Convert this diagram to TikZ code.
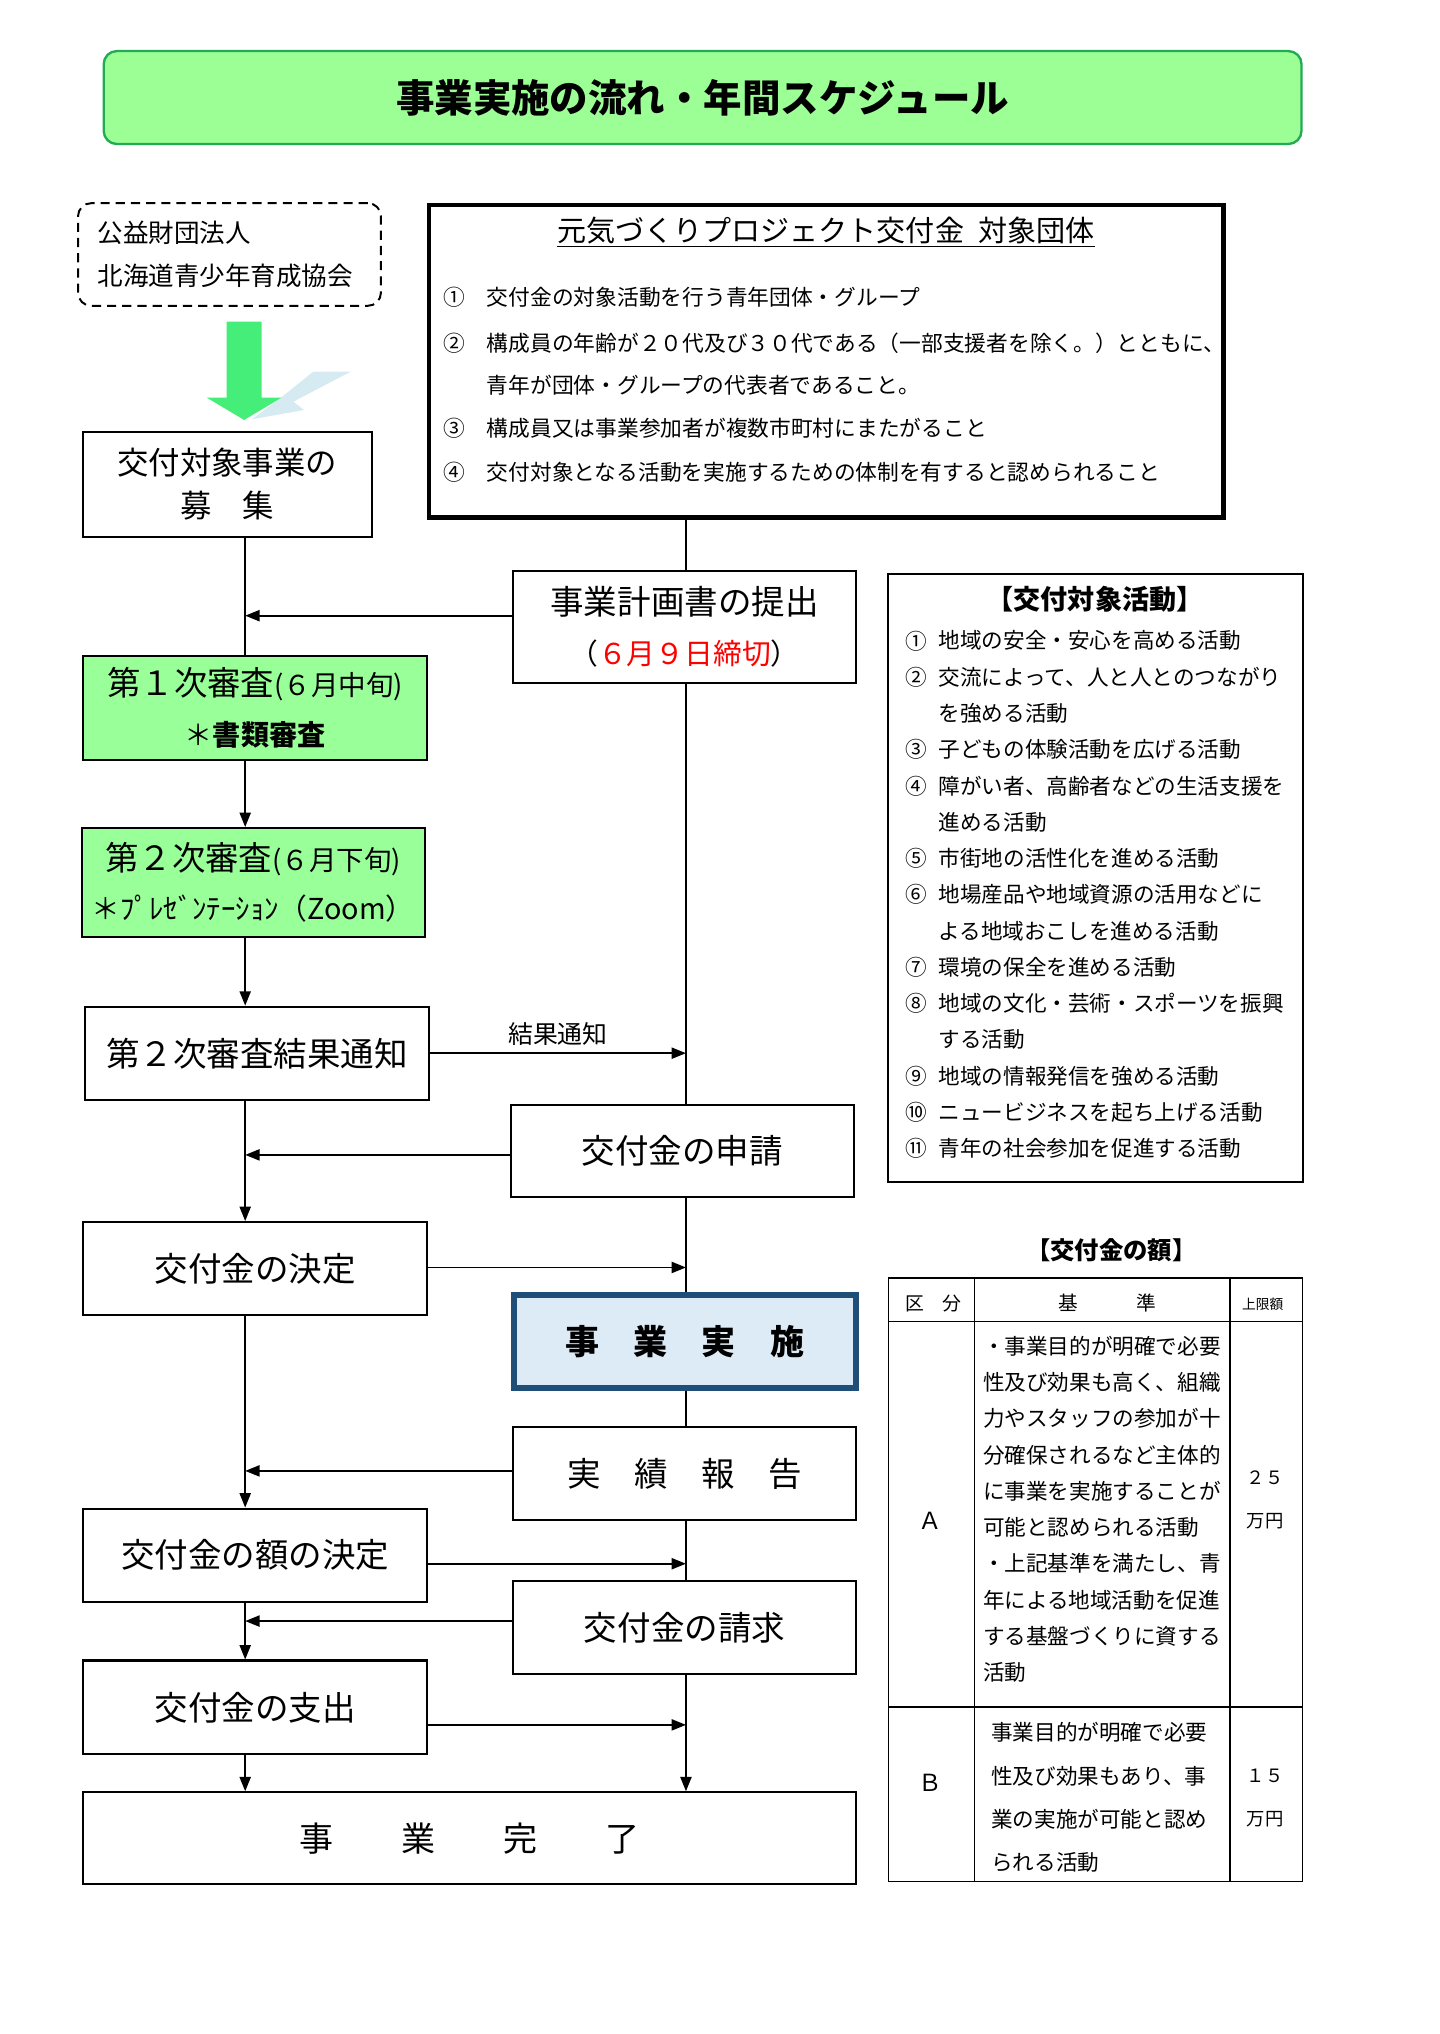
\documentclass[tikz,border=0pt]{standalone}
\usepackage{fontspec}
\setmainfont{Noto Sans CJK JP}
\usetikzlibrary{arrows.meta}
\definecolor{titlegreen}{HTML}{9CFF96}
\definecolor{titleline}{HTML}{22AA55}
\definecolor{boxgreen}{HTML}{99FF99}
\definecolor{arrowgreen}{HTML}{45EE78}
\definecolor{shadowblue}{HTML}{D6EAF2}
\definecolor{planblue}{HTML}{DDEBF7}
\definecolor{planline}{HTML}{1F4E79}
\newcommand{\jfs}[1]{\fontsize{#1}{#1}\selectfont}

\begin{document}
\begin{tikzpicture}
[x=1pt,y=-1pt]
\tikzset{box/.style={draw,line width=1.6pt,inner sep=0pt,align=center,font=\jfs{25.6}}}
\tikzset{grn/.style={box,fill=boxgreen}}
\tikzset{arr/.style={line width=1.4pt,-{Triangle[length=11pt,width=8.5pt]}}}
\tikzset{ln/.style={line width=1.4pt}}
\tikzset{thinln/.style={line width=1pt}}
\tikzset{num/.style={inner sep=0pt,font=\jfs{16.6}}}
\tikzset{item/.style={anchor=west,inner sep=0pt,font=\jfs{16.6}}}
\tikzset{cell/.style={anchor=west,inner sep=0pt,font=\jfs{16.5}}}
\tikzset{tab/.style={line width=1.2pt}}
\useasboundingbox (0,0) rectangle (1100,1553.75);

\node [draw=titleline,line width=1.8pt,fill=titlegreen,rounded corners=10pt,minimum width=915pt,minimum height=71pt,inner sep=0pt,font=\jfs{29.4}\bfseries] (n0) at (536.7,74.5) {事業実施の流れ・年間スケジュール};

\node [draw,line width=1.5pt,dash pattern=on 7pt off 4.6pt,rounded corners=10pt,minimum width=231.4pt,minimum height=78.4pt,text width=201.4pt,inner xsep=15pt,inner ysep=0pt,align=left,font=\fontsize{19.5}{32.4}\selectfont] (n1) at (175.3,194.4) {公益財団法人\\北海道青少年育成協会};

\fill [shadowblue] (192.3,320.3) -- (213.9,304.3) -- (239.3,283.9) -- (267.9,283.9) -- (224.1,306.8) -- (232.2,313.2) -- cycle;
\fill [arrowgreen] (173.2,245.7) -- (199.9,245.7) -- (199.9,303.8) -- (215,303.8) -- (186.5,320.8) -- (158,303.8) -- (173.2,303.8) -- cycle;

\node [box,minimum width=220.8pt,minimum height=80pt,font=\fontsize{24}{33}\selectfont] (n2) at (173.6,370) {交付対象事業の\\募　集};

\node [draw,line width=3.5pt,minimum width=607pt,minimum height=238.7pt] (n3) at (631.3,276.1) {};
\node [inner sep=0pt,font=\jfs{22.2}] (h3) at (631,177.4) {\underline{元気づくりプロジェクト交付金\hspace{0.5em}対象団体}};
\foreach \y/\m/\t [count=\i] in {
 226.8/①/交付金の対象活動を行う青年団体・グループ,
 261.9/②/構成員の年齢が２０代及び３０代である（一部支援者を除く。）とともに、,
 294/{}/青年が団体・グループの代表者であること。,
 327.4/③/構成員又は事業参加者が複数市町村にまたがること,
 360.8/④/交付対象となる活動を実施するための体制を有すると認められること}
{
 \node [num] (m\i) at (347,\y) {\m};
 \node [item] (t\i) at (371.8,\y) {\t};
}

\node [box,minimum width=262.6pt,minimum height=85.2pt,font=\fontsize{25.6}{37.5}\selectfont] (n4) at (522.9,478.8) {事業計画書の提出\\{\jfs{22}（\textcolor{red}{６月９日締切}）}};
\node [grn,minimum width=262.6pt,minimum height=79.4pt,font=\fontsize{25.5}{38}\selectfont] (n5) at (194.9,540.7) {第１次審査{\jfs{21}(６月中旬)}\\{\jfs{21.5}＊\bfseries 書類審査}};
\node [grn,minimum width=262.2pt,minimum height=82.9pt,font=\fontsize{25.5}{37}\selectfont] (n6) at (193.4,674) {第２次審査{\jfs{21}(６月下旬)}\\{\jfs{22}＊ﾌﾟﾚｾﾞﾝﾃｰｼｮﾝ（Zoom）}};
\node [box,minimum width=262.7pt,minimum height=71.4pt] (n7) at (196.2,804.7) {第２次審査結果通知};
\node [box,minimum width=262.1pt,minimum height=70.6pt] (n8) at (521.3,879.3) {交付金の申請};
\node [box,minimum width=262.6pt,minimum height=70.9pt] (n9) at (194.9,969) {交付金の決定};
\node [box,draw=planline,line width=4.5pt,fill=planblue,minimum width=261.5pt,minimum height=71pt,font=\jfs{26}\bfseries] (n10) at (523.2,1024.5) {事　業　実　施};
\node [box,minimum width=262.6pt,minimum height=70.9pt] (n11) at (522.9,1125.7) {実　績　報　告};
\node [box,minimum width=262.6pt,minimum height=71.2pt] (n12) at (194.9,1188) {交付金の額の決定};
\node [box,minimum width=262.6pt,minimum height=71.3pt] (n13) at (522.9,1243.3) {交付金の請求};
\node [box,minimum width=262.6pt,minimum height=71.5pt] (n14) at (194.9,1304.2) {交付金の支出};
\node [box,minimum width=590.6pt,minimum height=70.1pt,font=\jfs{26}] (n15) at (358.9,1404.2) {事　　業　　完　　了};

\node [box,minimum width=316.5pt,minimum height=464.6pt] (n16) at (836.8,670.5) {};
\node [inner sep=0pt,font=\jfs{20.7}\bfseries] (h16) at (836.5,457.9) {【交付対象活動】};
\foreach \y/\m/\t [count=\i] in {
 489.5/①/地域の安全・安心を高める活動,
 517.2/②/交流によって、人と人とのつながり,
 544.9/{}/を強める活動,
 572.6/③/子どもの体験活動を広げる活動,
 600.3/④/障がい者、高齢者などの生活支援を,
 628/{}/進める活動,
 655.7/⑤/市街地の活性化を進める活動,
 683.4/⑥/地場産品や地域資源の活用などに,
 711.1/{}/よる地域おこしを進める活動,
 738.8/⑦/環境の保全を進める活動,
 766.5/⑧/地域の文化・芸術・スポーツを振興,
 794.2/{}/する活動,
 821.9/⑨/地域の情報発信を強める活動,
 849.6/⑩/ニュービジネスを起ち上げる活動,
 877.3/⑪/青年の社会参加を促進する活動}
{
 \node [num,font=\jfs{16.5}] (k\i) at (699.7,\y) {\m};
 \node [item,font=\jfs{16.5}] (s\i) at (716.8,\y) {\t};
}

\node [inner sep=0pt,font=\jfs{18.6}\bfseries] (h17) at (849,955.3) {【交付金の額】};
\draw [tab] (678.6,976.3) rectangle (995.1,1437.3);
\draw [tab] (744.3,976.3) -- (744.3,1437.3);
\draw [tab] (939.6,976.3) -- (939.6,1437.3);
\draw [tab] (678.6,1009.4) -- (995.1,1009.4);
\draw [tab] (678.6,1304.1) -- (995.1,1304.1);
\node [inner sep=0pt,font=\jfs{14.4}] (c1) at (713.1,995.6) {区　分};
\node [inner sep=0pt,font=\jfs{15}] (c2) at (846,995.6) {基　　　準};
\node [inner sep=0pt,font=\jfs{10.5}] (c3) at (964.5,996.6) {上限額};
\node [inner sep=0pt,font=\jfs{18}] (ka) at (710.4,1162.1) {Ａ};
\node [inner sep=0pt,font=\jfs{18}] (kb) at (710.4,1362) {Ｂ};
\node [inner sep=0pt,font=\jfs{14}] (va) at (966.4,1128.8) {２５};
\node [inner sep=0pt,font=\jfs{14}] (ua) at (966.4,1162.1) {万円};
\node [inner sep=0pt,font=\jfs{14}] (vb) at (966.4,1356.7) {１５};
\node [inner sep=0pt,font=\jfs{14}] (ub) at (966.4,1390) {万円};
\foreach \y/\t [count=\i] in {
 1028.2/・事業目的が明確で必要,
 1055.9/性及び効果も高く、組織,
 1083.6/力やスタッフの参加が十,
 1111.3/分確保されるなど主体的,
 1139/に事業を実施することが,
 1166.7/可能と認められる活動,
 1194.4/・上記基準を満たし、青,
 1222.1/年による地域活動を促進,
 1249.8/する基盤づくりに資する,
 1277.5/活動}
 \node [cell] (ra\i) at (750.7,\y) {\t};
\foreach \y/\t [count=\i] in {
 1323.4/事業目的が明確で必要,
 1356.7/性及び効果もあり、事,
 1390/業の実施が可能と認め,
 1422.7/られる活動}
 \node [cell] (rb\i) at (757,\y) {\t};

\coordinate (L) at (187.3,0);
\coordinate (R) at (524,0);
\coordinate (p1) at (187.3,470.3);
\coordinate (p2) at (187.3,882.2);
\coordinate (p3) at (187.3,1123.6);
\coordinate (p4) at (187.3,1238.3);
\coordinate (q1) at (524,804.5);
\coordinate (q2) at (524,968.2);
\coordinate (q3) at (524,1194.5);
\coordinate (q4) at (524,1317.6);

\draw [arr] (n7.east |- q1) -- node [above=5pt,inner sep=0pt,font=\jfs{19}] (lbl) {結果通知} (q1);
\foreach \from/\to in {n4/p1,n8/p2,n11/p3,n13/p4}
	\draw [arr] (\from.west |- \to) -- (\to);
\foreach \from/\to in {n9/q2,n12/q3,n14/q4}
	\draw [arr] (\from.east |- \to) -- (\to);
\foreach \from/\to in {n5/n6,n6/n7,n7/n9,n9/n12,n12/n14,n14/n15}
	\draw [arr] (\from.south -| L) -- (\to.north -| L);
\draw [ln] (n2.south -| L) -- (n5.north -| L);
\foreach \from/\to in {n3/n4,n4/n8,n8/n10,n10/n11,n11/n13}
	\draw [thinln] (\from.south -| R) -- (\to.north -| R);
\draw [arr] (n13.south -| R) -- (n15.north -| R);
\end{tikzpicture}
\end{document}
